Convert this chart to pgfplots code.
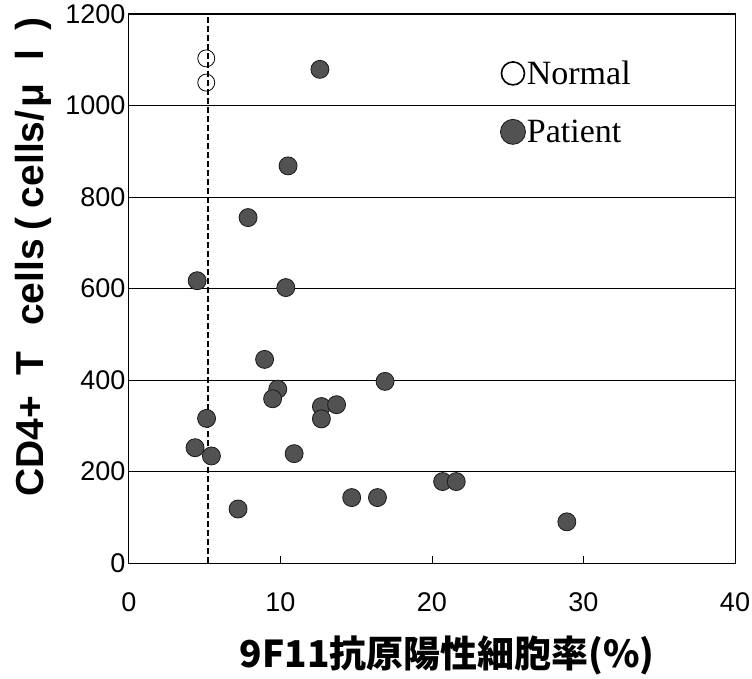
\documentclass[border=0pt]{standalone}
\usepackage{pgfplots}
\pgfplotsset{compat=1.18}
\usepackage{fontspec}
\setmainfont{Liberation Sans}
\newfontfamily\seriffont{Liberation Serif}
\newfontfamily\cjk{Noto Sans CJK JP}
\pgfplotstableread{
x y
5.1 1103
5.1 1050
}\normaldata
\pgfplotstableread{
x y
12.6 1079
10.5 868
7.86 755
4.5 617
10.35 602
8.95 445
16.9 397
9.82 380
9.48 359
12.7 342
13.7 346
12.7 315
5.12 316
4.36 252
5.44 234
10.9 239
14.7 143
16.4 143
7.2 118
20.7 178
21.6 178
28.9 90
}\patientdata
\begin{document}
\begin{tikzpicture}
\begin{axis}[
  at={(0,0)}, anchor=south west,
  scale only axis, width=606bp, height=549bp,
  xmin=0, xmax=40, ymin=0, ymax=1200,
  xtick={0,10,20,30,40}, ytick={0,200,400,600,800,1000,1200},
  scaled ticks=false,
  /pgf/number format/1000 sep={},
  /pgf/number format/assume math mode=true,
  ymajorgrids, grid style={black, line width=0.8bp},
  axis line style={line width=1bp},
  tick align=inside, xtick pos=bottom, ytick pos=left,
  major tick length=7bp,
  ytick style={draw=none},
  xtick style={black, line width=1bp},
  tick label style={font=\fontsize{27bp}{30bp}\selectfont},
  xticklabel style={yshift=-26bp},
  yticklabel style={xshift=0bp},
  xlabel={\cjk\bfseries 9F11抗原陽性細胞率(\%)},
  xlabel style={at={(rel axis cs:0.525,-0.168)}, anchor=center, font=\fontsize{37bp}{40bp}\selectfont},
  ylabel={\bfseries CD4+\hspace{20bp}T\hspace{26bp}cells\hspace{9bp}(\hspace{9bp}cells/\hspace{3bp}μ\hspace{23bp}l\hspace{19bp})},
  ylabel style={at={(rel axis cs:-0.1419,0.557)}, anchor=base, inner sep=0pt, font=\fontsize{39bp}{42bp}\selectfont},
  legend style={draw=none, fill=none, at={(rel axis cs:0.612,0.915)}, anchor=north west,
    font=\seriffont\fontsize{34bp}{36bp}\selectfont, inner sep=0pt, row sep=33bp,
    nodes={inner xsep=1bp, inner ysep=0bp}},
  legend cell align=left,
]
\addplot[black, line width=1.6bp, dash pattern=on 6bp off 3bp, forget plot] coordinates {(5.2,0) (5.2,1200)};
\addplot[only marks, mark=o, mark size=8.5bp, mark options={draw=black, line width=0.8bp}, forget plot] table[x=x,y=y] {\normaldata};
\addplot[only marks, mark=*, mark size=9bp, mark options={fill=black!68, draw=black!90, line width=0.8bp}, forget plot] table[x=x,y=y] {\patientdata};
\addlegendimage{legend image code/.code={\draw[black, line width=1.6bp] (12bp,0bp) circle[radius=11.5bp];}}
\addlegendentry{Normal}
\addlegendimage{legend image code/.code={\draw[black!90, fill=black!68, line width=0.8bp] (12bp,0bp) circle[radius=12.5bp];}}
\addlegendentry{Patient}
\end{axis}
\pgfresetboundingbox
\useasboundingbox (-129bp,-116bp) rectangle (623bp,563bp);
\end{tikzpicture}
\end{document}
